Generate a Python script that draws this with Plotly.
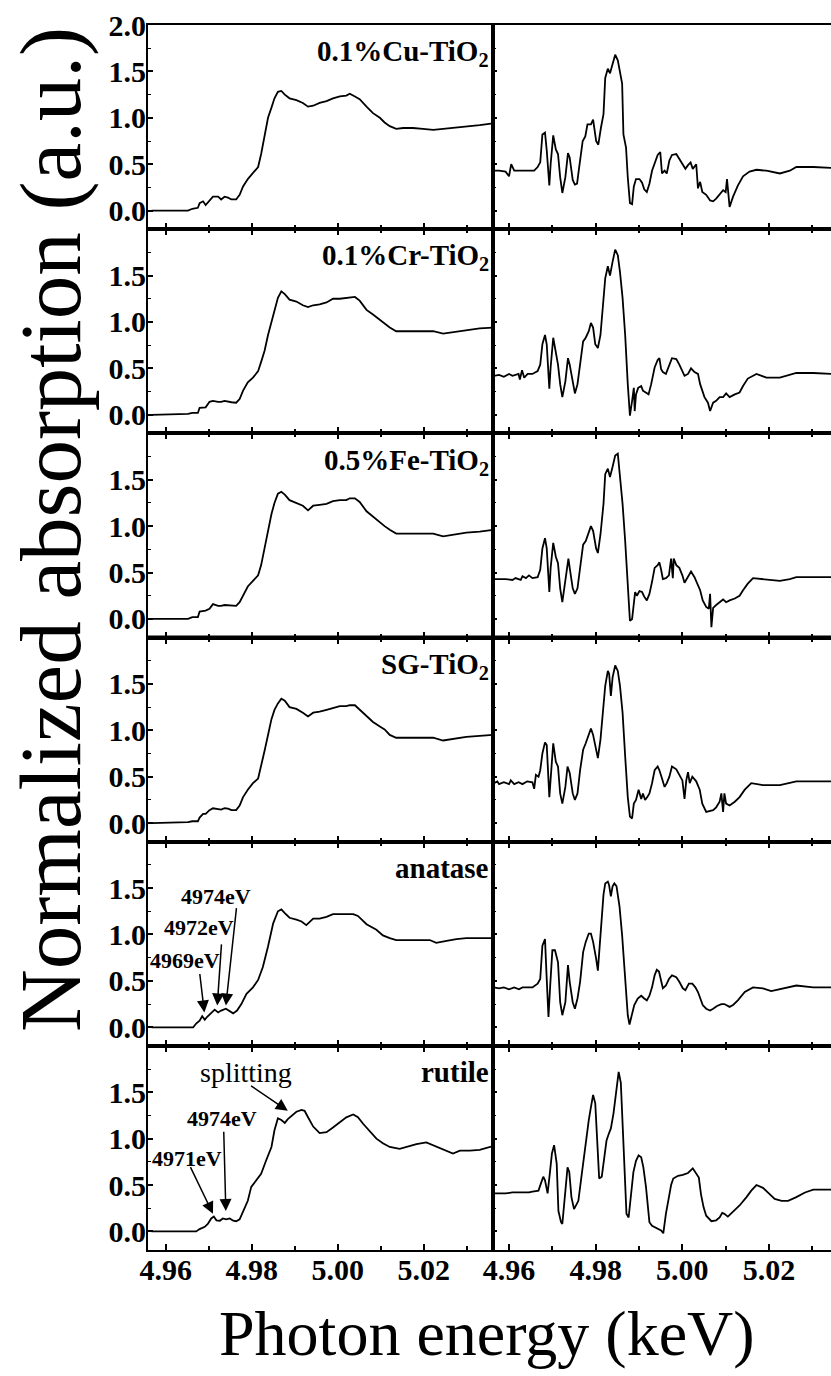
import plotly.graph_objects as go

W, H = 831, 1376
SERIF = "Liberation Serif, Times New Roman, Times, serif"

# ---------------------------------------------------------------- XANES (left)
# energy grid shared by the doped and sol-gel samples (keV)
e_doped = [4.9567, 4.9652, 4.9662, 4.9675, 4.9679, 4.9687, 4.9693, 4.9702, 4.9710, 4.9722,
           4.9729, 4.9737, 4.9745, 4.9753, 4.9764, 4.9772, 4.9780, 4.9791, 4.9803, 4.9815,
           4.9822, 4.9830, 4.9838, 4.9846, 4.9853, 4.9861, 4.9869, 4.9877, 4.9888, 4.9904,
           4.9919, 4.9931, 4.9943, 4.9958, 4.9974, 4.9989, 5.0005, 5.0020, 5.0028, 5.0040,
           5.0051, 5.0067, 5.0082, 5.0098, 5.0109, 5.0121, 5.0136, 5.0152, 5.0175, 5.0198,
           5.0222, 5.0245, 5.0268, 5.0299, 5.0330, 5.0361]
xanes_cu = [0.00, 0.00, 0.02, 0.03, 0.08, 0.10, 0.06, 0.11, 0.15, 0.15,
            0.12, 0.15, 0.14, 0.12, 0.12, 0.17, 0.26, 0.34, 0.41, 0.47,
            0.61, 0.82, 1.00, 1.11, 1.21, 1.28, 1.29, 1.25, 1.21, 1.19,
            1.16, 1.12, 1.13, 1.16, 1.18, 1.21, 1.23, 1.24, 1.26, 1.23,
            1.20, 1.12, 1.05, 1.00, 0.95, 0.91, 0.88, 0.89, 0.89, 0.88,
            0.87, 0.88, 0.89, 0.90, 0.92, 0.94]
xanes_cr = [0.00, 0.01, 0.02, 0.02, 0.075, 0.08, 0.08, 0.14, 0.15, 0.14,
            0.14, 0.15, 0.14, 0.135, 0.13, 0.17, 0.26, 0.35, 0.40, 0.47,
            0.57, 0.69, 0.86, 1.01, 1.14, 1.26, 1.33, 1.30, 1.24, 1.22,
            1.18, 1.16, 1.18, 1.19, 1.21, 1.25, 1.25, 1.26, 1.27, 1.27,
            1.23, 1.13, 1.08, 1.02, 0.98, 0.94, 0.90, 0.90, 0.90, 0.90,
            0.90, 0.875, 0.89, 0.91, 0.93, 0.94]
xanes_fe = [0.00, 0.00, 0.02, 0.02, 0.08, 0.085, 0.09, 0.11, 0.16, 0.14,
            0.14, 0.15, 0.145, 0.14, 0.14, 0.18, 0.25, 0.35, 0.41, 0.47,
            0.58, 0.77, 0.96, 1.13, 1.25, 1.35, 1.37, 1.34, 1.28, 1.25,
            1.22, 1.17, 1.22, 1.23, 1.24, 1.27, 1.28, 1.28, 1.30, 1.30,
            1.26, 1.16, 1.10, 1.04, 1.00, 0.96, 0.92, 0.92, 0.92, 0.92,
            0.92, 0.89, 0.91, 0.93, 0.94, 0.96]
xanes_sg = [0.00, 0.01, 0.02, 0.02, 0.06, 0.10, 0.10, 0.14, 0.16, 0.15,
            0.145, 0.16, 0.155, 0.14, 0.14, 0.19, 0.28, 0.36, 0.43, 0.48,
            0.61, 0.78, 0.95, 1.12, 1.22, 1.29, 1.34, 1.32, 1.25, 1.23,
            1.19, 1.15, 1.19, 1.20, 1.22, 1.24, 1.26, 1.26, 1.27, 1.27,
            1.22, 1.15, 1.09, 1.04, 1.01, 0.95, 0.92, 0.92, 0.92, 0.92,
            0.92, 0.89, 0.91, 0.93, 0.94, 0.95]

e_anatase = [4.9567, 4.9664, 4.9671, 4.9679, 4.9685, 4.9691, 4.9696, 4.9706, 4.9714, 4.9722,
             4.9729, 4.9740, 4.9749, 4.9757, 4.9766, 4.9776, 4.9788, 4.9803, 4.9815, 4.9826,
             4.9838, 4.9850, 4.9861, 4.9869, 4.9877, 4.9888, 4.9904, 4.9916, 4.9927, 4.9943,
             4.9958, 4.9974, 4.9989, 5.0005, 5.0036, 5.0047, 5.0067, 5.0090, 5.0105, 5.0121,
             5.0136, 5.0214, 5.0229, 5.0253, 5.0276, 5.0299, 5.0361]
xanes_anatase = [0.00, 0.00, 0.04, 0.07, 0.12, 0.08, 0.11, 0.16, 0.19, 0.16,
                 0.18, 0.20, 0.17, 0.15, 0.18, 0.25, 0.36, 0.43, 0.51, 0.65,
                 0.87, 1.12, 1.25, 1.27, 1.23, 1.18, 1.16, 1.14, 1.10, 1.17,
                 1.17, 1.19, 1.22, 1.22, 1.22, 1.20, 1.11, 1.05, 0.99, 0.96,
                 0.94, 0.94, 0.91, 0.93, 0.95, 0.96, 0.96]

e_rutile = [4.9567, 4.9671, 4.9679, 4.9691, 4.9698, 4.9706, 4.9712, 4.9718, 4.9726, 4.9733,
            4.9741, 4.9749, 4.9757, 4.9764, 4.9772, 4.9780, 4.9791, 4.9799, 4.9811, 4.9822,
            4.9834, 4.9846, 4.9853, 4.9861, 4.9869, 4.9877, 4.9884, 4.9895, 4.9904, 4.9916,
            4.9923, 4.9931, 4.9943, 4.9958, 4.9974, 4.9989, 5.0005, 5.0020, 5.0036, 5.0047,
            5.0059, 5.0074, 5.0090, 5.0105, 5.0121, 5.0144, 5.0167, 5.0183, 5.0206, 5.0222,
            5.0245, 5.0268, 5.0284, 5.0307, 5.0330, 5.0361]
xanes_rutile = [0.00, 0.00, 0.025, 0.05, 0.08, 0.14, 0.16, 0.12, 0.115, 0.14,
                0.13, 0.14, 0.115, 0.11, 0.13, 0.22, 0.33, 0.48, 0.55, 0.62,
                0.77, 0.91, 1.09, 1.22, 1.20, 1.17, 1.21, 1.26, 1.29, 1.31,
                1.30, 1.23, 1.13, 1.06, 1.07, 1.12, 1.18, 1.23, 1.26, 1.23,
                1.16, 1.08, 1.00, 0.95, 0.91, 0.89, 0.92, 0.94, 0.96, 0.93,
                0.88, 0.84, 0.87, 0.87, 0.88, 0.92]

# ----------------------------------------------------------- derivative (right)
d_cu_e = [4.9565, 4.9577, 4.9592, 4.9600, 4.9605, 4.9612, 4.9631, 4.9658, 4.9666, 4.9672,
          4.9677, 4.9683, 4.9687, 4.9693, 4.9696, 4.9702, 4.9708, 4.9713, 4.9718, 4.9723,
          4.9730, 4.9736, 4.9740, 4.9747, 4.9752, 4.9757, 4.9762, 4.9770, 4.9776, 4.9781,
          4.9789, 4.9794, 4.9801, 4.9806, 4.9812, 4.9818, 4.9822, 4.9828, 4.9833, 4.9839,
          4.9845, 4.9851, 4.9856, 4.9861, 4.9864, 4.9870, 4.9874, 4.9879, 4.9884, 4.9888,
          4.9893, 4.9901, 4.9907, 4.9912, 4.9918, 4.9924, 4.9930, 4.9936, 4.9943, 4.9949,
          4.9953, 4.9959, 4.9964, 4.9970, 4.9976, 4.9986, 4.9992, 5.0000, 5.0007, 5.0013,
          5.0019, 5.0024, 5.0032, 5.0036, 5.0041, 5.0046, 5.0055, 5.0064, 5.0071, 5.0078,
          5.0086, 5.0094, 5.0100, 5.0103, 5.0109, 5.0117, 5.0128, 5.0140, 5.0155, 5.0171,
          5.0194, 5.0225, 5.0248, 5.0263, 5.0302, 5.0343]
d_cu_v = [0.43, 0.43, 0.42, 0.37, 0.50, 0.43, 0.43, 0.43, 0.47, 0.52,
          0.82, 0.84, 0.65, 0.27, 0.50, 0.81, 0.66, 0.61, 0.36, 0.19,
          0.36, 0.62, 0.57, 0.33, 0.28, 0.29, 0.47, 0.75, 0.80, 0.93,
          0.93, 0.98, 0.75, 0.71, 0.89, 1.04, 1.43, 1.53, 1.48, 1.57,
          1.68, 1.62, 1.48, 1.37, 0.82, 0.68, 0.36, 0.08, 0.07, 0.26,
          0.34, 0.34, 0.30, 0.23, 0.20, 0.29, 0.43, 0.50, 0.60, 0.63,
          0.40, 0.43, 0.40, 0.54, 0.60, 0.61, 0.56, 0.50, 0.45, 0.49,
          0.52, 0.45, 0.50, 0.24, 0.31, 0.20, 0.17, 0.11, 0.10, 0.13,
          0.18, 0.22, 0.20, 0.34, 0.04, 0.15, 0.27, 0.37, 0.42, 0.44,
          0.43, 0.40, 0.43, 0.47, 0.47, 0.46]

d_cr_e = [4.9565, 4.9577, 4.9588, 4.9600, 4.9608, 4.9622, 4.9625, 4.9630, 4.9635, 4.9643,
          4.9654, 4.9666, 4.9672, 4.9677, 4.9683, 4.9687, 4.9693, 4.9696, 4.9702, 4.9708,
          4.9713, 4.9718, 4.9723, 4.9730, 4.9736, 4.9740, 4.9747, 4.9752, 4.9758, 4.9764,
          4.9771, 4.9777, 4.9784, 4.9789, 4.9794, 4.9799, 4.9805, 4.9811, 4.9818, 4.9822,
          4.9828, 4.9833, 4.9839, 4.9845, 4.9851, 4.9856, 4.9862, 4.9868, 4.9874, 4.9879,
          4.9884, 4.9888, 4.9890, 4.9893, 4.9898, 4.9905, 4.9909, 4.9916, 4.9922, 4.9928,
          4.9936, 4.9943, 4.9947, 4.9951, 4.9955, 4.9962, 4.9969, 4.9976, 4.9986, 4.9993,
          5.0005, 5.0013, 5.0020, 5.0028, 5.0036, 5.0041, 5.0046, 5.0051, 5.0059, 5.0064,
          5.0071, 5.0078, 5.0086, 5.0094, 5.0101, 5.0109, 5.0121, 5.0132, 5.0140, 5.0151,
          5.0171, 5.0194, 5.0225, 5.0248, 5.0263, 5.0302, 5.0343]
d_cr_v = [0.42, 0.43, 0.41, 0.44, 0.42, 0.44, 0.38, 0.48, 0.40, 0.44,
          0.44, 0.47, 0.54, 0.76, 0.86, 0.76, 0.28, 0.51, 0.83, 0.65,
          0.54, 0.33, 0.19, 0.36, 0.61, 0.54, 0.33, 0.23, 0.33, 0.54,
          0.79, 0.83, 0.90, 0.99, 0.94, 0.76, 0.72, 0.86, 1.22, 1.47,
          1.60, 1.50, 1.65, 1.78, 1.72, 1.54, 1.26, 0.86, 0.33, -0.01,
          0.15, 0.29, 0.04, 0.22, 0.29, 0.31, 0.26, 0.24, 0.22, 0.33,
          0.51, 0.59, 0.61, 0.49, 0.46, 0.44, 0.53, 0.61, 0.60, 0.54,
          0.42, 0.44, 0.50, 0.46, 0.44, 0.33, 0.26, 0.19, 0.13, 0.04,
          0.13, 0.15, 0.19, 0.19, 0.23, 0.19, 0.22, 0.24, 0.31, 0.39,
          0.44, 0.40, 0.40, 0.43, 0.45, 0.45, 0.44]

d_fe_e = [4.9565, 4.9577, 4.9592, 4.9608, 4.9615, 4.9627, 4.9631, 4.9639, 4.9646, 4.9654,
          4.9666, 4.9672, 4.9677, 4.9683, 4.9687, 4.9693, 4.9696, 4.9702, 4.9708, 4.9713,
          4.9718, 4.9723, 4.9730, 4.9737, 4.9740, 4.9747, 4.9752, 4.9758, 4.9764, 4.9771,
          4.9777, 4.9784, 4.9789, 4.9794, 4.9801, 4.9805, 4.9811, 4.9818, 4.9822, 4.9828,
          4.9833, 4.9839, 4.9845, 4.9851, 4.9856, 4.9862, 4.9868, 4.9874, 4.9879, 4.9884,
          4.9888, 4.9891, 4.9895, 4.9901, 4.9907, 4.9912, 4.9918, 4.9924, 4.9930, 4.9936,
          4.9943, 4.9947, 4.9951, 4.9955, 4.9962, 4.9969, 4.9974, 4.9978, 4.9980, 4.9986,
          4.9993, 5.0000, 5.0005, 5.0013, 5.0020, 5.0028, 5.0036, 5.0041, 5.0047, 5.0055,
          5.0061, 5.0064, 5.0067, 5.0071, 5.0078, 5.0086, 5.0094, 5.0101, 5.0109, 5.0121,
          5.0132, 5.0140, 5.0151, 5.0163, 5.0186, 5.0225, 5.0248, 5.0263, 5.0302, 5.0343]
d_fe_v = [0.43, 0.43, 0.43, 0.42, 0.44, 0.42, 0.46, 0.44, 0.47, 0.44,
          0.45, 0.53, 0.76, 0.87, 0.76, 0.29, 0.55, 0.82, 0.67, 0.60,
          0.33, 0.18, 0.40, 0.65, 0.55, 0.33, 0.27, 0.33, 0.55, 0.80,
          0.84, 0.93, 1.00, 0.95, 0.76, 0.71, 0.91, 1.24, 1.56, 1.62,
          1.53, 1.64, 1.76, 1.78, 1.56, 1.24, 0.84, 0.33, -0.02, 0.00,
          0.15, 0.29, 0.25, 0.30, 0.29, 0.24, 0.20, 0.27, 0.40, 0.55,
          0.58, 0.61, 0.53, 0.43, 0.44, 0.47, 0.65, 0.44, 0.65, 0.58,
          0.55, 0.47, 0.39, 0.45, 0.51, 0.45, 0.36, 0.31, 0.20, 0.13,
          0.11, 0.27, -0.09, 0.12, 0.15, 0.18, 0.21, 0.18, 0.20, 0.22,
          0.25, 0.31, 0.38, 0.44, 0.43, 0.41, 0.43, 0.45, 0.45, 0.45]

d_sg_e = [4.9565, 4.9573, 4.9577, 4.9588, 4.9600, 4.9604, 4.9612, 4.9622, 4.9631, 4.9642,
          4.9654, 4.9658, 4.9662, 4.9668, 4.9672, 4.9677, 4.9683, 4.9687, 4.9693, 4.9696,
          4.9702, 4.9708, 4.9713, 4.9718, 4.9723, 4.9730, 4.9735, 4.9740, 4.9747, 4.9752,
          4.9758, 4.9764, 4.9771, 4.9777, 4.9784, 4.9789, 4.9794, 4.9801, 4.9805, 4.9811,
          4.9818, 4.9822, 4.9828, 4.9831, 4.9835, 4.9839, 4.9845, 4.9851, 4.9856, 4.9862,
          4.9868, 4.9874, 4.9879, 4.9884, 4.9888, 4.9893, 4.9899, 4.9905, 4.9909, 4.9914,
          4.9919, 4.9924, 4.9930, 4.9936, 4.9943, 4.9947, 4.9953, 4.9959, 4.9964, 4.9970,
          4.9976, 4.9986, 4.9993, 5.0000, 5.0005, 5.0009, 5.0013, 5.0017, 5.0023, 5.0032,
          5.0040, 5.0046, 5.0055, 5.0063, 5.0071, 5.0078, 5.0086, 5.0090, 5.0094, 5.0097,
          5.0101, 5.0109, 5.0121, 5.0132, 5.0144, 5.0159, 5.0186, 5.0225, 5.0248, 5.0263,
          5.0302, 5.0343]
d_sg_v = [0.43, 0.45, 0.42, 0.44, 0.42, 0.46, 0.42, 0.44, 0.42, 0.45,
          0.44, 0.37, 0.52, 0.50, 0.57, 0.75, 0.87, 0.84, 0.28, 0.50,
          0.86, 0.66, 0.61, 0.32, 0.21, 0.39, 0.61, 0.54, 0.32, 0.25,
          0.32, 0.57, 0.79, 0.86, 0.95, 1.02, 0.95, 0.79, 0.70, 0.90,
          1.23, 1.48, 1.64, 1.61, 1.37, 1.57, 1.70, 1.64, 1.48, 1.19,
          0.72, 0.28, 0.07, 0.05, 0.21, 0.25, 0.36, 0.26, 0.32, 0.25,
          0.28, 0.32, 0.43, 0.57, 0.61, 0.57, 0.48, 0.39, 0.43, 0.50,
          0.61, 0.58, 0.52, 0.46, 0.26, 0.46, 0.55, 0.43, 0.50, 0.45,
          0.36, 0.21, 0.12, 0.13, 0.14, 0.17, 0.23, 0.32, 0.12, 0.32,
          0.21, 0.19, 0.23, 0.28, 0.36, 0.43, 0.41, 0.41, 0.43, 0.45,
          0.45, 0.45]

d_an_e = [4.9565, 4.9577, 4.9588, 4.9600, 4.9612, 4.9623, 4.9631, 4.9654, 4.9666, 4.9672,
          4.9677, 4.9683, 4.9687, 4.9691, 4.9695, 4.9700, 4.9706, 4.9713, 4.9718, 4.9723,
          4.9730, 4.9736, 4.9740, 4.9747, 4.9752, 4.9758, 4.9764, 4.9771, 4.9777, 4.9784,
          4.9789, 4.9794, 4.9801, 4.9805, 4.9811, 4.9818, 4.9822, 4.9828, 4.9831, 4.9835,
          4.9839, 4.9843, 4.9848, 4.9855, 4.9861, 4.9866, 4.9870, 4.9874, 4.9878, 4.9884,
          4.9889, 4.9897, 4.9905, 4.9912, 4.9918, 4.9924, 4.9930, 4.9936, 4.9941, 4.9946,
          4.9951, 4.9955, 4.9962, 4.9969, 4.9976, 4.9986, 4.9993, 5.0001, 5.0007, 5.0015,
          5.0023, 5.0030, 5.0036, 5.0041, 5.0047, 5.0055, 5.0064, 5.0071, 5.0080, 5.0090,
          5.0097, 5.0109, 5.0117, 5.0128, 5.0144, 5.0163, 5.0186, 5.0205, 5.0225, 5.0263,
          5.0302, 5.0343]
d_an_v = [0.43, 0.42, 0.43, 0.41, 0.43, 0.41, 0.43, 0.43, 0.47, 0.52,
          0.88, 0.95, 0.52, 0.11, 0.45, 0.83, 0.83, 0.70, 0.27, 0.13,
          0.27, 0.67, 0.49, 0.27, 0.20, 0.31, 0.49, 0.81, 0.92, 1.01,
          1.01, 0.92, 0.74, 0.61, 0.99, 1.43, 1.55, 1.57, 1.53, 1.41,
          1.52, 1.55, 1.52, 1.30, 0.99, 0.63, 0.34, 0.13, 0.03, 0.16,
          0.24, 0.31, 0.34, 0.31, 0.29, 0.34, 0.43, 0.56, 0.62, 0.60,
          0.49, 0.42, 0.45, 0.52, 0.56, 0.54, 0.49, 0.42, 0.40, 0.47,
          0.47, 0.43, 0.38, 0.31, 0.24, 0.20, 0.18, 0.20, 0.23, 0.25,
          0.25, 0.22, 0.24, 0.29, 0.38, 0.43, 0.42, 0.39, 0.41, 0.45,
          0.43, 0.43]

d_ru_e = [4.9565, 4.9592, 4.9608, 4.9623, 4.9646, 4.9654, 4.9668, 4.9673, 4.9679, 4.9683,
          4.9689, 4.9694, 4.9699, 4.9704, 4.9710, 4.9714, 4.9720, 4.9723, 4.9727, 4.9731,
          4.9735, 4.9739, 4.9744, 4.9750, 4.9754, 4.9760, 4.9766, 4.9771, 4.9777, 4.9784,
          4.9789, 4.9794, 4.9799, 4.9804, 4.9808, 4.9814, 4.9820, 4.9825, 4.9830, 4.9835,
          4.9841, 4.9847, 4.9853, 4.9858, 4.9862, 4.9866, 4.9871, 4.9876, 4.9882, 4.9887,
          4.9893, 4.9899, 4.9905, 4.9910, 4.9916, 4.9924, 4.9930, 4.9939, 4.9951, 4.9956,
          4.9962, 4.9969, 4.9974, 4.9979, 4.9990, 5.0001, 5.0013, 5.0024, 5.0032, 5.0038,
          5.0043, 5.0049, 5.0055, 5.0067, 5.0078, 5.0086, 5.0092, 5.0097, 5.0105, 5.0117,
          5.0132, 5.0148, 5.0159, 5.0171, 5.0186, 5.0202, 5.0213, 5.0229, 5.0244, 5.0263,
          5.0283, 5.0302, 5.0343]
d_ru_v = [0.41, 0.41, 0.42, 0.42, 0.42, 0.43, 0.44, 0.51, 0.59, 0.55,
          0.41, 0.62, 0.84, 0.93, 0.73, 0.22, 0.10, 0.08, 0.30, 0.55,
          0.69, 0.64, 0.37, 0.24, 0.28, 0.33, 0.55, 0.73, 0.98, 1.20,
          1.34, 1.47, 1.38, 0.98, 0.57, 0.59, 0.84, 0.98, 1.05, 1.11,
          1.27, 1.52, 1.72, 1.60, 1.16, 0.69, 0.19, 0.15, 0.44, 0.64,
          0.76, 0.82, 0.80, 0.69, 0.48, 0.10, 0.06, 0.04, 0.01, -0.02,
          0.19, 0.37, 0.50, 0.57, 0.60, 0.61, 0.63, 0.68, 0.62, 0.58,
          0.40, 0.26, 0.17, 0.11, 0.12, 0.15, 0.20, 0.19, 0.16, 0.21,
          0.28, 0.37, 0.44, 0.50, 0.47, 0.40, 0.35, 0.33, 0.33, 0.37,
          0.42, 0.45, 0.45]

sample_labels = ["0.1%Cu-TiO<sub>2</sub>", "0.1%Cr-TiO<sub>2</sub>", "0.5%Fe-TiO<sub>2</sub>",
                 "SG-TiO<sub>2</sub>", "anatase", "rutile"]
xanes_e = [e_doped, e_doped, e_doped, e_doped, e_anatase, e_rutile]
xanes_v = [xanes_cu, xanes_cr, xanes_fe, xanes_sg, xanes_anatase, xanes_rutile]
deriv_e = [d_cu_e, d_cr_e, d_fe_e, d_sg_e, d_an_e, d_ru_e]
deriv_v = [d_cu_v, d_cr_v, d_fe_v, d_sg_v, d_an_v, d_ru_v]

# pre-edge features marked on the reference phases (eV)
anatase_peaks_ev = [4969, 4972, 4974]
rutile_peaks_ev = [4971, 4974]

y_ticks = [0.0, 0.5, 1.0, 1.5]
x_ticks = [4.96, 4.98, 5.00, 5.02]

# ------------------------------------------------------------------ layout
LEFT_X = [148 / W, 493 / W]
RIGHT_X = [493 / W, 1.0]
TOP_PX, BOTTOM_PX = 25, 1250
ROW_H = (BOTTOM_PX - TOP_PX) / 6
LEFT_RANGE = [4.9559, 5.0361]
RIGHT_RANGE = [4.9563, 5.0343]
Y_RANGE = [-0.2, 2.0]

tick_font = dict(family=SERIF, size=30, color="black", weight="bold")

fig = go.Figure()
layout = dict(
    width=W, height=H, autosize=False,
    margin=dict(l=0, r=0, t=0, b=0, autoexpand=False),
    paper_bgcolor="white", plot_bgcolor="white",
    showlegend=False,
)
annotations = []


def axis_key(kind, n):
    return kind + ("" if n == 1 else str(n))


for i in range(6):
    top = 1 - (TOP_PX + i * ROW_H) / H
    bottom = 1 - (TOP_PX + (i + 1) * ROW_H) / H
    last = i == 5
    yt = y_ticks + ([2.0] if i == 0 else [])
    for col in range(2):
        n = 2 * i + col + 1
        xa, ya = axis_key("x", n), axis_key("y", n)
        left = col == 0
        layout[axis_key("xaxis", n)] = dict(
            domain=LEFT_X if left else RIGHT_X, anchor=ya,
            range=LEFT_RANGE if left else RIGHT_RANGE, automargin=False,
            showline=True, linewidth=2, linecolor="black",
            mirror=True if i == 0 else "ticks",
            ticks="inside", ticklen=6, tickwidth=1.5, tickcolor="black",
            tickvals=x_ticks, tickformat=".2f", ticklabelstandoff=-8,
            minor=dict(ticks="inside", ticklen=4, tickwidth=1.5, tickcolor="black",
                       tick0=4.96, dtick=0.01),
            showticklabels=last, tickfont=tick_font,
            showgrid=False, zeroline=False,
        )
        layout[axis_key("yaxis", n)] = dict(
            domain=[bottom, top], anchor=xa, range=Y_RANGE, automargin=False,
            showline=True, linewidth=2, linecolor="black",
            mirror=left,
            ticks="inside", ticklen=5 if left else 4, tickwidth=1.5, tickcolor="black",
            tickvals=yt, tickformat=".1f", ticklabelstandoff=-6,
            minor=dict(ticks="inside", ticklen=3, tickwidth=1.2, tickcolor="black",
                       tick0=0, dtick=0.25),
            showticklabels=left, tickfont=tick_font,
            showgrid=False, zeroline=False,
        )
        ex = xanes_e[i] if left else deriv_e[i]
        ey = xanes_v[i] if left else deriv_v[i]
        fig.add_trace(go.Scatter(
            x=ex, y=ey, xaxis=xa, yaxis=ya, mode="lines",
            line=dict(color="black", width=1.8), hoverinfo="skip",
        ))
    n = 2 * i + 1
    annotations.append(dict(
        text=sample_labels[i], xref=axis_key("x", n) + " domain", yref=axis_key("y", n) + " domain",
        x=0.995, y=0.96, xanchor="right", yanchor="top", showarrow=False,
        font=dict(family=SERIF, size=29, color="black", weight="bold"),
    ))


def marker(n, ev, text_xy, tail_xy, tip_y):
    xa, ya = axis_key("x", n), axis_key("y", n)
    annotations.append(dict(
        text="", x=ev / 1000, y=tip_y, xref=xa, yref=ya,
        ax=tail_xy[0], ay=tail_xy[1], axref=xa, ayref=ya,
        showarrow=True, arrowhead=2, arrowsize=1.6, arrowwidth=1.5, arrowcolor="black",
    ))
    annotations.append(dict(
        text=f"{ev}eV", x=text_xy[0], y=text_xy[1], xref=xa, yref=ya,
        showarrow=False, font=dict(family=SERIF, size=22, color="black", weight="bold"),
    ))


# anatase (row 5, left panel = axis 9)
marker(9, anatase_peaks_ev[0], (4.9645, 0.72), (4.9679, 0.59), 0.16)
marker(9, anatase_peaks_ev[1], (4.9677, 1.07), (4.9730, 0.91), 0.235)
marker(9, anatase_peaks_ev[2], (4.9717, 1.41), (4.9765, 1.30), 0.235)
# rutile (row 6, left panel = axis 11)
marker(11, rutile_peaks_ev[0], (4.9650, 0.79), (4.9656, 0.71), 0.19)
marker(11, rutile_peaks_ev[1], (4.9730, 1.22), (4.9735, 1.09), 0.22)
annotations.append(dict(
    text="", x=4.9884, y=1.30, xref="x11", yref="y11",
    ax=4.9795, ay=1.58, axref="x11", ayref="y11",
    showarrow=True, arrowhead=2, arrowsize=1.6, arrowwidth=1.5, arrowcolor="black",
))
annotations.append(dict(
    text="splitting", x=4.9786, y=1.71, xref="x11", yref="y11", showarrow=False,
    font=dict(family=SERIF, size=28, color="black"),
))

# axis titles
annotations.append(dict(
    text="Normalized absorption (a.u.)", xref="paper", yref="paper",
    x=50 / W, y=1 - 530 / H, xanchor="center", yanchor="middle", textangle=-90,
    showarrow=False, font=dict(family=SERIF, size=87, color="black"),
))
annotations.append(dict(
    text="Photon energy (keV)", xref="paper", yref="paper",
    x=487 / W, y=1 - 1333 / H, xanchor="center", yanchor="middle",
    showarrow=False, font=dict(family=SERIF, size=64, color="black"),
))

layout["annotations"] = annotations

# heavier frame line between the third and fourth rows
y_mid = 1 - (TOP_PX + 3 * ROW_H) / H
layout["shapes"] = [dict(type="line", xref="paper", yref="paper",
                         x0=LEFT_X[0], x1=1.0, y0=y_mid, y1=y_mid,
                         line=dict(color="black", width=4))]

fig.update_layout(**layout)
fig.write_html("out.html")
